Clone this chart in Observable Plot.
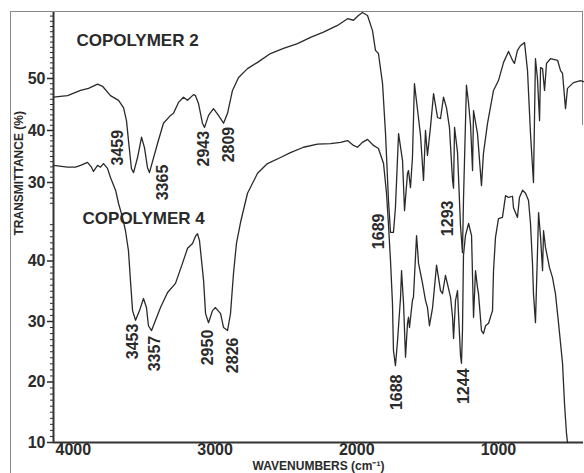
<!DOCTYPE html>
<html><head><meta charset="utf-8">
<script src="https://cdn.jsdelivr.net/npm/d3@7"></script>
<script src="https://cdn.jsdelivr.net/npm/@observablehq/plot@0.6"></script>
<style>
html,body{margin:0;padding:0;background:#fff;}
#chart{position:relative;width:584px;height:473px;overflow:hidden;background:#fff;}
#chart svg{position:absolute;left:0;top:0;}
.box{position:absolute;left:10px;top:11px;width:572px;height:461px;border-left:1.5px solid #888;border-top:1.5px solid #888;}
.rightedge{position:absolute;left:582px;top:11px;height:114px;border-left:1.5px solid #888;}
</style></head><body>
<div id="chart"><div class="box"></div><div class="rightedge"></div></div>
<script>
// Copolymer 2 (upper trace, upper axis 30-50)
const wn2 = [4140,4041,3949,3893,3829,3794,3738,3681,3646,3625,3611,3590,3575,3547,3519,3498,3477,3463,3406,3364,3314,3293,3258,3223,3194,3152,3138,3117,3089,3074,3046,3011,2976,2940,2912,2877,2834,2771,2700,2609,2517,2418,2326,2235,2136,2065,2023,1988,1960,1924,1889,1868,1847,1818,1797,1776,1762,1741,1727,1705,1677,1663,1642,1635,1621,1607,1593,1564,1550,1529,1515,1501,1480,1458,1430,1409,1388,1367,1346,1324,1317,1310,1289,1268,1254,1247,1226,1211,1197,1183,1176,1148,1120,1106,1077,1035,1000,964,929,901,887,866,845,816,795,774,753,746,739,725,710,703,689,675,661,633,583,562,548,527,513,471,421,400];
const t2 = [46.4,46.7,47.7,48.1,48.9,48.5,46.7,45.8,44.4,41.9,38.1,32.7,31.9,34.8,38.7,36.7,32.9,31.9,37.5,41.4,42.9,43.3,45.4,46.4,45.8,46.9,46.7,45.2,41.4,40.6,42.9,44.2,42.9,41.4,43.3,47.7,50.2,51.9,53.1,54.8,55.8,56.7,57.9,58.9,60.2,61.5,61.2,62.1,62.7,62.1,59.2,55.4,54.8,49.0,39.4,26.5,20.4,20.4,25.2,39.4,34.2,24.6,31.7,32.3,29.0,34.8,49.0,42.3,39.0,30.4,40.0,35.2,40.6,47.1,42.5,42.3,46.4,44.4,40.6,30.4,28.9,40.6,35.8,21.7,16.5,26.5,48.7,45.2,41.0,32.3,43.8,39.4,29.4,35.6,41.4,47.7,49.6,53.1,55.2,53.5,52.9,55.4,56.3,56.9,51.5,39.4,30.0,41.9,53.8,50.0,41.9,52.1,51.9,47.7,52.9,53.8,53.5,51.5,51.0,44.2,48.1,49.2,49.6,49.4];

// Copolymer 4 (lower trace, axis 10-40)
const wn4 = [4140,4041,3985,3949,3900,3872,3858,3829,3808,3787,3759,3738,3702,3681,3653,3632,3611,3597,3582,3561,3533,3505,3484,3470,3448,3420,3385,3335,3279,3230,3194,3159,3138,3124,3110,3081,3067,3046,3018,2997,2961,2940,2912,2891,2870,2849,2820,2771,2700,2630,2538,2468,2376,2277,2185,2115,2065,2023,1995,1960,1924,1882,1847,1811,1790,1776,1762,1748,1741,1727,1712,1691,1684,1670,1656,1642,1635,1628,1607,1600,1578,1564,1536,1515,1501,1487,1465,1437,1409,1395,1374,1353,1338,1324,1317,1303,1289,1282,1268,1261,1254,1247,1233,1211,1190,1176,1162,1148,1141,1120,1106,1091,1070,1042,1035,1021,1000,972,950,929,901,894,866,852,830,809,788,774,760,753,739,725,717,703,689,682,668,654,640,619,598,576,548,534,520,513];
const t4 = [55.8,55.5,55.5,55.8,56.3,55.5,54.8,55.8,55.5,56.1,55.3,53.8,51.7,49.5,47.2,45.0,41.7,36.8,31.8,30.2,31.8,33.8,32.3,29.3,28.5,30.2,32.3,34.8,36.3,39.6,42.1,42.9,44.1,44.5,43.4,36.8,31.3,29.8,31.8,32.3,31.3,29.0,28.5,31.3,37.9,42.9,46.4,51.2,54.5,56.1,57.1,57.9,58.8,59.3,59.4,59.6,59.9,59.1,58.8,59.6,60.1,59.1,58.6,56.1,51.2,45.9,40.1,33.0,25.2,22.7,26.9,34.0,38.4,33.0,24.1,29.7,30.7,29.0,33.5,34.0,44.2,39.6,36.3,33.5,32.3,29.3,32.3,39.3,35.1,34.6,37.6,35.5,34.0,30.7,27.2,33.5,35.1,31.3,24.4,23.1,28.5,40.9,44.2,46.2,44.2,30.7,38.4,35.6,34.6,28.5,28.0,29.3,29.7,31.8,38.4,43.9,47.0,47.2,50.8,50.5,50.7,48.8,47.2,50.5,51.7,51.2,50.0,46.2,39.6,34.6,29.8,41.2,48.0,43.9,38.4,45.0,42.2,40.6,38.9,37.3,34.6,29.7,23.1,16.4,11.5,10.0];

// Peak annotations (label text and label anchor in data units)
const peak2Text = ["3459","3365","2943","2809","1689","1293"];
const peak2Wn   = [3688, 3371, 3081, 2905, 1847, 1360];
const peak2T    = [36.7, 30.0, 36.5, 37.3, 20.6, 23.1];
const peak4Text = ["3453","3357","2950","2826","1688","1244"];
const peak4Wn   = [3582, 3427, 3053, 2877, 1720, 1247];
const peak4T    = [26.7, 24.7, 25.7, 24.4, 18.3, 19.3];

const seriesNames = ["COPOLYMER 2","COPOLYMER 4"];
const seriesLabelWn = [3978, 3935];
const seriesLabelT  = [57.3, 47.0];

const xTicks = [4000,3000,2000,1000];
const yTicks4 = [10,20,30,40];
const yTicks2 = [30,40,50];
const xDomain = [4140, 400];
const y4Domain = [10, 81.07];
const y2Domain = [-20, 62.69];

const rows = (xs, ys) => xs.map((x, i) => ({x, y: ys[i]}));
const data2 = rows(wn2, t2);
const data4 = rows(wn4, t4);
const lab2 = peak2Text.map((s, i) => ({s, x: peak2Wn[i], y: peak2T[i]}));
const lab4 = peak4Text.map((s, i) => ({s, x: peak4Wn[i], y: peak4T[i]}));

const ink = "#2a2a2a";
const common = {
  width: 584, height: 473,
  marginLeft: 53, marginRight: 1, marginTop: 12, marginBottom: 31,
  style: {fontFamily: "'Liberation Sans', Arial, Helvetica, sans-serif", fontWeight: "bold", fontSize: "16px", color: ink, background: "transparent", overflow: "visible"}
};

const base = Plot.plot({
  ...common,
  x: {domain: xDomain},
  y: {domain: y4Domain},
  marks: [
    Plot.axisX(xTicks, {tickSize: 2, tickPadding: -1, tickFormat: d => String(d), label: null, fontSize: 16, fontWeight: "bold", strokeWidth: 1.5}),
    Plot.axisY(yTicks4, {tickSize: 6, tickPadding: 2, tickFormat: d => String(d), label: null, fontSize: 16, fontWeight: "bold", strokeWidth: 1.5}),
    Plot.axisY(d3.range(11, 47).filter(v => !yTicks4.includes(v)), {tickSize: 3, tickFormat: () => "", label: null, strokeWidth: 1}),
    Plot.ruleY([y4Domain[0]], {stroke: "#333", strokeWidth: 2}),
    Plot.ruleX([xDomain[0]], {stroke: "#333", strokeWidth: 2}),
    Plot.line(data4, {x: "x", y: "y", stroke: ink, strokeWidth: 1.3, curve: "linear"}),
    Plot.text(lab4, {x: "x", y: "y", text: "s", rotate: -90, fontSize: 16, fontWeight: "bold", fill: ink}),
    Plot.text([seriesNames[1]], {x: () => seriesLabelWn[1], y: () => seriesLabelT[1], textAnchor: "start", fontSize: 17, fontWeight: "bold", fill: ink}),
    Plot.text(["TRANSMITTANCE (%)"], {frameAnchor: "left", dx: -34, dy: 8, rotate: -90, fontSize: 12, fontWeight: "bold", fill: ink}),
    Plot.text(["WAVENUMBERS (cm\u207B\u00B9)"], {frameAnchor: "bottom", dy: 27, fontSize: 12, fontWeight: "bold", fill: ink})
  ]
});

const over = Plot.plot({
  ...common,
  x: {domain: xDomain, axis: null},
  y: {domain: y2Domain},
  marks: [
    Plot.axisY(yTicks2, {tickSize: 6, tickPadding: 2, tickFormat: d => String(d), label: null, fontSize: 16, fontWeight: "bold", strokeWidth: 1.5}),
    Plot.axisY(d3.range(26, 63).filter(v => !yTicks2.includes(v)), {tickSize: 3, tickFormat: () => "", label: null, strokeWidth: 1}),
    Plot.line(data2, {x: "x", y: "y", stroke: ink, strokeWidth: 1.3}),
    Plot.text(lab2, {x: "x", y: "y", text: "s", rotate: -90, fontSize: 16, fontWeight: "bold", fill: ink}),
    Plot.text([seriesNames[0]], {x: () => seriesLabelWn[0], y: () => seriesLabelT[0], textAnchor: "start", fontSize: 17, fontWeight: "bold", fill: ink})
  ]
});

const chart = document.getElementById("chart");
chart.appendChild(base);
chart.appendChild(over);
</script>
</body></html>
